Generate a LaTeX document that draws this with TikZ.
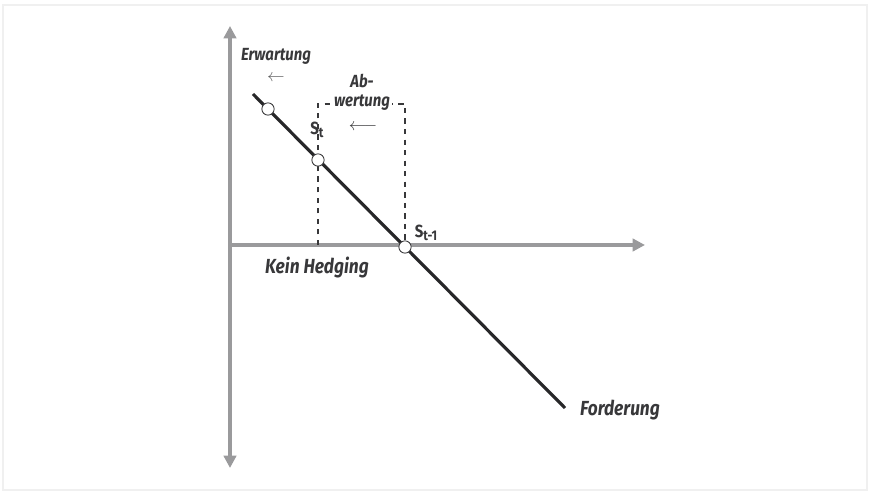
\documentclass[tikz,border=0pt]{standalone}
\usepackage{fontspec}
\setmainfont[FakeStretch=0.85]{Fira Sans}
\usetikzlibrary{arrows.meta,positioning}
\definecolor{axisgray}{HTML}{9A9A9C}
\definecolor{txtgray}{HTML}{38383A}
\newcommand{\subsc}[1]{\raisebox{-0.35ex}{\fontsize{8}{9}\selectfont #1}}
\tikzset{
  axis/.style={line width=2.2pt, axisgray, -{Triangle[length=7pt,width=7pt]}},
  curve/.style={line width=1.8pt, txtgray!70!black},
  dot/.style={circle, draw=txtgray, fill=white, line width=0.5pt, inner sep=0pt, minimum size=7pt},
  lbl/.style={font=\bfseries\itshape\fontsize{11.6}{13}\selectfont, text=txtgray, inner sep=1pt},
  small lbl/.style={lbl, font=\bfseries\itshape\fontsize{10}{12}\selectfont},
  sym/.style={font=\bfseries\fontsize{10}{12}\selectfont, text=txtgray, inner sep=1pt},
  bound/.style={dashed, line width=0.6pt, txtgray}
}
\begin{document}
\begin{tikzpicture}[x=0.02cm, y=-0.02cm]
\useasboundingbox (0,0) rectangle (870,493);
% frame
\draw[gray!12, line width=0.6pt] (3,5) rectangle (867,490);
% axes
\coordinate (O) at (230,245);
\coordinate (ytop) at (230,26);
\coordinate (ybot) at (230,468);
\coordinate (xend) at (645,245);
\draw[axis, {Triangle[length=7pt,width=7pt]}-{Triangle[length=7pt,width=7pt]}] (ybot) -- (ytop);
\draw[axis] (O) -- (xend);
% dashed box
\coordinate (b1) at (318,245);
\coordinate (b2) at (318,104);
\coordinate (b3) at (405,104);
\coordinate (b4) at (405,245);
\draw[bound] (b1) -- (b2) -- (b3) -- (b4);
\node[small lbl, fill=white] (wert) at (362,103) {wertung};
\node[small lbl, above=2pt of wert] (ab) {Ab-};
\node[text=txtgray] (arrB) at (363,127) {$\longleftarrow$};
% demand line
\coordinate (ltop) at (253,94);
\coordinate (lbot) at (565,408);
\draw[curve] (ltop) -- (lbot);
\node[dot] (e0) at (268,109) {};
\node[dot] (st) at (318,160) {};
\node[dot] (st1) at (405,247) {};
% labels
\node[small lbl] (erw) at (276,56) {Erwartung};
\node[text=txtgray!80] (arrA) at (276,78) {$\leftarrow$};
\node[sym] (lst) at (317,130) {S\subsc{t}};
\node[sym] (lst1) at (426,233) {S\subsc{t-1}};
\node[lbl] (hedge) at (317,268) {Kein Hedging};
\node[lbl] (ford) at (620,410) {Forderung};
\end{tikzpicture}
\end{document}
